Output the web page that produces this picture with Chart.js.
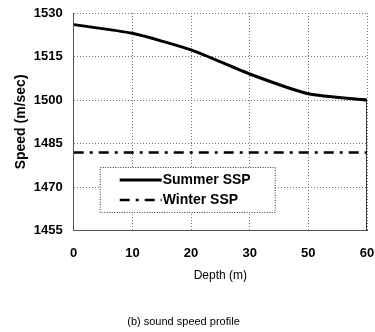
<!DOCTYPE html>
<html>
<head>
<meta charset="utf-8">
<script src="https://cdn.jsdelivr.net/npm/chart.js@4/dist/chart.umd.min.js"></script>
<style>
  html, body { margin: 0; padding: 0; background: #fff; }
  #wrap { width: 375px; height: 332px; }
</style>
</head>
<body>
<div id="wrap"><canvas id="ssp" width="375" height="332"></canvas></div>
<script>
  // depth labels are evenly spaced in the figure (no 40 tick)
  const depthLabels = ['0', '10', '20', '30', '50', '60'];
  const summerSSP = [1526, 1523, 1517.3, 1509, 1502.2, 1500];
  const winterSSP = [1482, 1482, 1482, 1482, 1482, 1482];
  const edgeLine = [1500, 1455];
  const speedTicks = [1455, 1470, 1485, 1500, 1515, 1530];

  const fontFam = '"Liberation Sans", Arial, sans-serif';

  function toPoints(values) {
    return values.map((v, i) => ({ x: i, y: v }));
  }

  // legend box drawn inside the plot, lower-left
  const insideLegend = {
    id: 'insideLegend',
    afterDraw(chart) {
      const ctx = chart.ctx;
      const area = chart.chartArea;
      const items = chart.data.datasets.filter(d => d.label);
      const x0 = area.left + 26, y0 = area.top + 154;
      const w = 175, h = 45;
      ctx.save();
      ctx.fillStyle = '#fff';
      ctx.fillRect(x0, y0, w, h);
      ctx.strokeStyle = '#333';
      ctx.lineWidth = 1;
      ctx.setLineDash([1, 1.5]);
      ctx.strokeRect(x0 + 0.5, y0 + 0.5, w, h);
      ctx.font = 'bold 14px ' + fontFam;
      ctx.textBaseline = 'middle';
      items.forEach((d, i) => {
        const y = y0 + 13 + i * 20;
        ctx.strokeStyle = '#000';
        ctx.lineWidth = d.borderWidth;
        ctx.setLineDash(d.borderDash || []);
        ctx.beginPath();
        ctx.moveTo(x0 + 20, y);
        ctx.lineTo(x0 + 62, y);
        ctx.stroke();
        ctx.fillStyle = '#000';
        ctx.fillText(d.label, x0 + 63, y);
      });
      ctx.restore();
    }
  };

  new Chart(document.getElementById('ssp'), {
    type: 'line',
    data: {
      datasets: [
        {
          label: 'Summer SSP',
          data: toPoints(summerSSP),
          borderColor: '#000',
          borderWidth: 3,
          pointRadius: 0,
          tension: 0.2
        },
        {
          label: 'Winter SSP',
          data: toPoints(winterSSP),
          borderColor: '#000',
          borderWidth: 2.5,
          borderDash: [10, 6, 3, 6],
          pointRadius: 0
        },
        {
          data: edgeLine.map(v => ({ x: depthLabels.length - 1, y: v })),
          borderColor: '#000',
          borderWidth: 1.5,
          pointRadius: 0
        }
      ]
    },
    options: {
      responsive: false,
      animation: false,
      layout: { padding: { top: 13, right: 8, left: 0, bottom: 0 } },
      plugins: {
        legend: { display: false },
        tooltip: { enabled: false },
        title: {
          display: true,
          position: 'bottom',
          text: '(b) sound speed profile',
          color: '#000',
          font: { family: fontFam, size: 11, weight: 'normal' },
          padding: { top: 33, bottom: 3 }
        }
      },
      scales: {
        x: {
          type: 'linear',
          min: 0,
          max: depthLabels.length - 1,
          afterBuildTicks: axis => { axis.ticks = depthLabels.map((l, i) => ({ value: i })); },
          afterFit: axis => { axis.paddingRight = 0; axis.paddingLeft = 0; },
          ticks: {
            callback: v => depthLabels[v],
            color: '#000',
            padding: 15,
            maxRotation: 0,
            font: { family: fontFam, size: 13, weight: 'bold' }
          },
          grid: { color: '#777', lineWidth: 1, drawTicks: false },
          border: { display: true, color: '#555', dash: [1, 2] },
          title: {
            display: true,
            text: 'Depth (m)',
            color: '#000',
            font: { family: fontFam, size: 12 },
            padding: { top: -8, bottom: 0 }
          }
        },
        y: {
          min: 1455,
          max: 1530,
          afterBuildTicks: axis => { axis.ticks = speedTicks.map(v => ({ value: v })); },
          afterFit: axis => { axis.paddingTop = 0; axis.paddingBottom = 0; },
          ticks: {
            callback: v => String(v),
            color: '#000',
            padding: 11,
            font: { family: fontFam, size: 13, weight: 'bold' }
          },
          grid: { color: '#777', lineWidth: 1, drawTicks: false },
          border: { display: true, color: '#555', dash: [1, 2] },
          title: {
            display: true,
            text: 'Speed (m/sec)',
            color: '#000',
            font: { family: fontFam, size: 14, weight: 'bold' },
            padding: { top: 13, bottom: -7 }
          }
        }
      }
    },
    plugins: [insideLegend]
  });
</script>
</body>
</html>
